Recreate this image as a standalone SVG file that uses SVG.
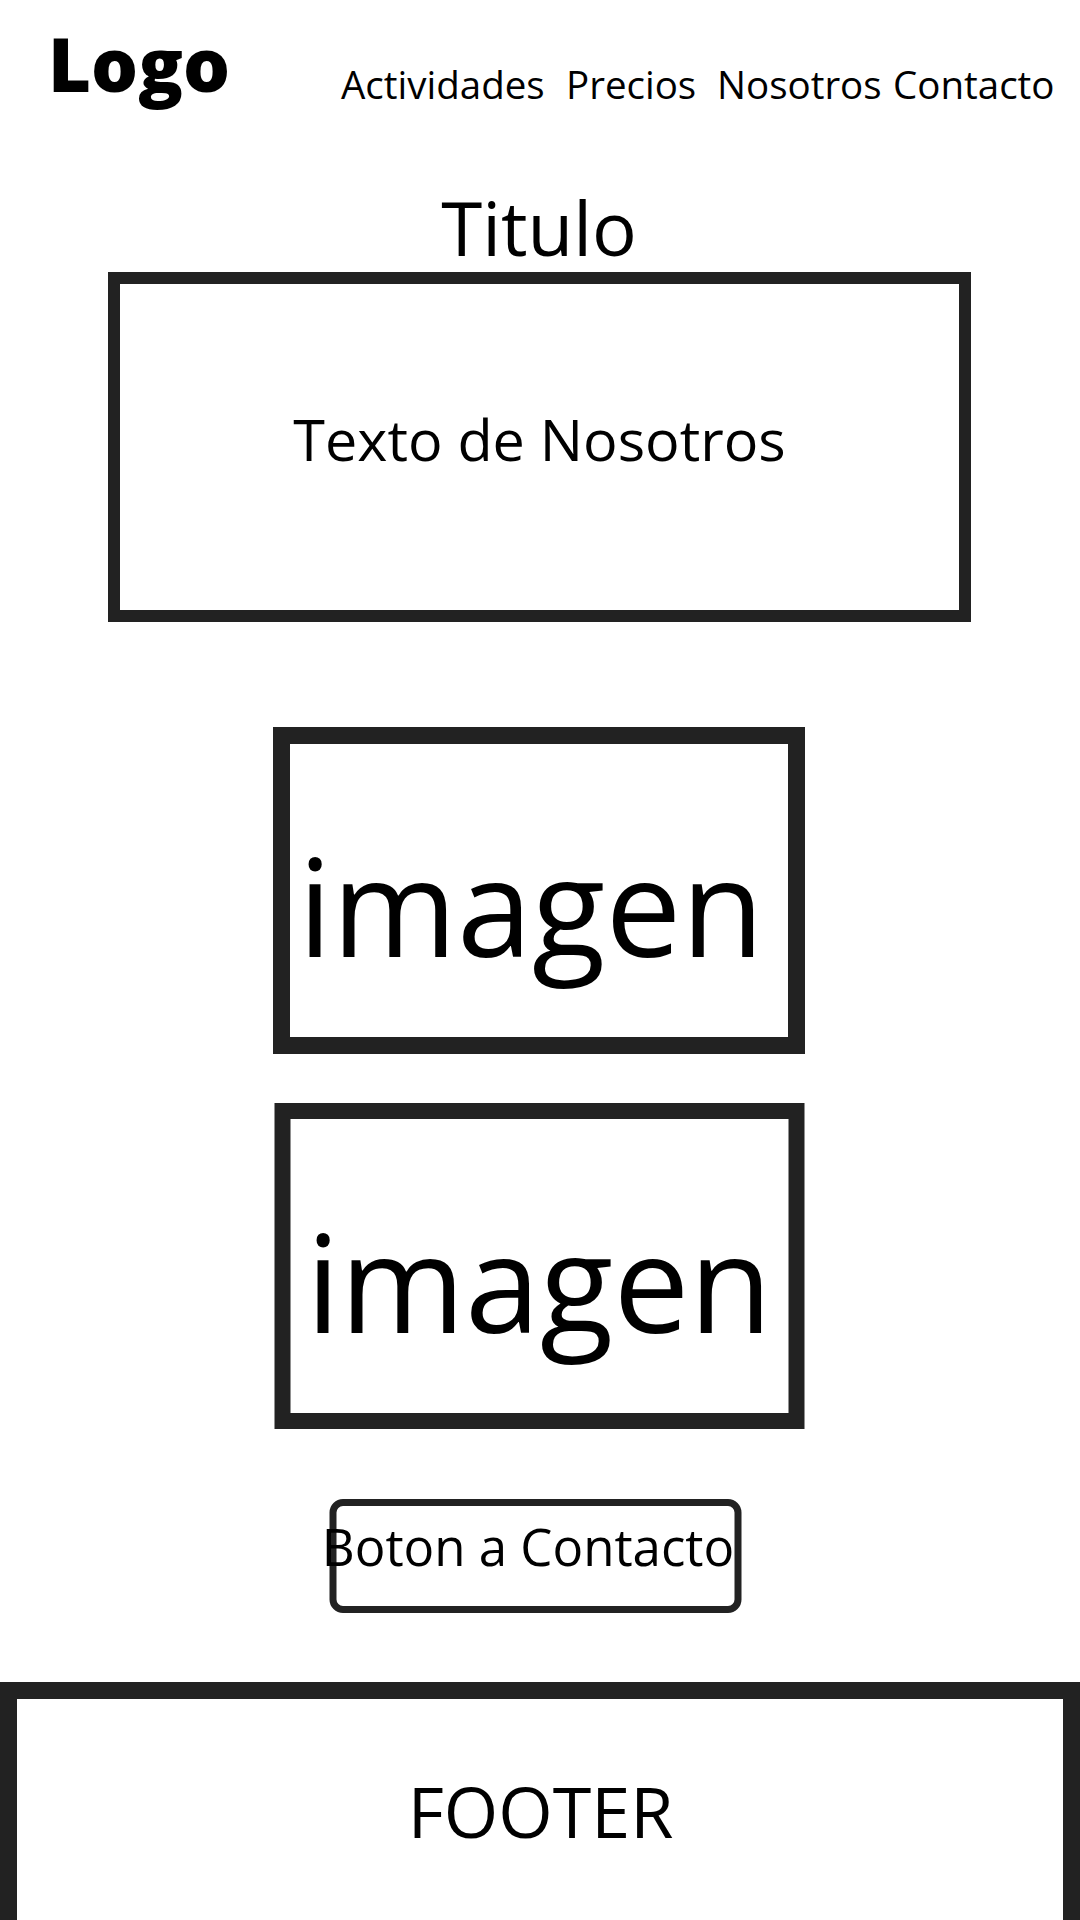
<svg xmlns="http://www.w3.org/2000/svg" width="1080" height="1920" viewBox="0 0 1080 1920">
<style>
  text { font-family: "Open Sans", "Noto Sans", "DejaVu Sans", sans-serif; fill: #000; }
  .box { fill: #fff; stroke: #222; }
  .c { text-anchor: middle; }
</style>
<rect x="0" y="0" width="1080" height="1920" fill="#fff"/>
<g id="header">
  <text id="logo" x="48" y="92" font-size="74" font-weight="800">Logo</text>
  <g id="nav" font-size="38.5">
    <text x="341" y="99">Actividades</text>
    <text x="566" y="99">Precios</text>
    <text x="717" y="99">Nosotros</text>
    <text x="893" y="99">Contacto</text>
  </g>
</g>
<g id="titulo">
  <text class="c" x="539" y="256" font-size="74.5">Titulo</text>
</g>
<g id="texto-nosotros">
  <rect class="box" x="114" y="278" width="851" height="338" stroke-width="12"/>
  <text class="c" x="539.5" y="461" font-size="57.5">Texto de Nosotros</text>
</g>
<g id="imagen1">
  <rect class="box" x="281.5" y="735.5" width="515" height="310" stroke-width="17"/>
  <text class="c" x="531" y="957" font-size="135">imagen</text>
</g>
<g id="imagen2">
  <rect class="box" x="282.5" y="1111" width="514" height="310" stroke-width="16"/>
  <text class="c" x="539" y="1333" font-size="135">imagen</text>
</g>
<g id="boton">
  <rect class="box" x="333" y="1502.5" width="405" height="107" rx="10" stroke-width="7"/>
  <text class="c" x="528" y="1566" font-size="51">Boton a Contacto</text>
</g>
<g id="footer">
  <rect class="box" x="8.5" y="1690.5" width="1063" height="300" stroke-width="17"/>
  <text class="c" x="540.5" y="1838" font-size="70">FOOTER</text>
</g>
<g id="connectors"></g>
</svg>
